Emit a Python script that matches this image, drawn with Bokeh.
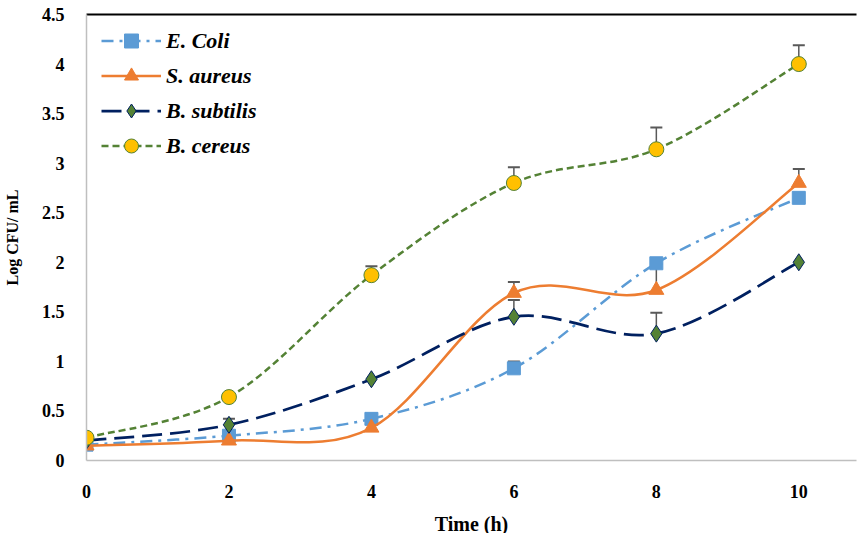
import numpy as np
from bokeh.plotting import figure
from bokeh.models import (LinearAxis, FixedTicker, Whisker, ColumnDataSource, TeeHead,
                          Legend, LegendItem, Range1d)
from bokeh.embed import file_html
from bokeh.resources import INLINE

# ---------------- data ----------------
time_h = [0, 2, 4, 6, 8, 10]
e_coli = [0.16, 0.25, 0.42, 0.93, 1.99, 2.65]
s_aureus = [0.15, 0.20, 0.33, 1.69, 1.72, 2.80]
b_subtilis = [0.20, 0.36, 0.82, 1.45, 1.28, 2.00]
b_cereus = [0.23, 0.64, 1.87, 2.80, 3.14, 4.00]

err_e_coli = [0, 0, 0, 0.07, 0, 0]
err_s_aureus = [0, 0, 0, 0.11, 0.26, 0.14]
err_b_subtilis = [0, 0.06, 0, 0.17, 0.21, 0]
err_b_cereus = [0, 0, 0.09, 0.16, 0.22, 0.19]

series_names = ["E. Coli", "S. aureus", "B. subtilis", "B. cereus"]
x_ticks = [0, 2, 4, 6, 8, 10]
y_ticks = [0, 0.5, 1, 1.5, 2, 2.5, 3, 3.5, 4, 4.5]
y_tick_labels = ["0", "0.5", "1", "1.5", "2", "2.5", "3", "3.5", "4", "4.5"]

# ---------------- styles ----------------
styles = [
    dict(line_color="#5B9BD5", line_dash="12 6 3 6", line_width=2.5,
         marker="square", size=13, fill="#5B9BD5", mline="#5B9BD5"),
    dict(line_color="#ED7D31", line_dash="solid", line_width=2.5,
         marker="triangle", size=15, fill="#ED7D31", mline="#ED7D31"),
    dict(line_color="#002060", line_dash="20 8", line_width=2.75,
         marker="diamond", size=17, fill="#548235", mline="#002060"),
    dict(line_color="#548235", line_dash="7 4", line_width=2.5,
         marker="circle", size=15, fill="#FFC000", mline="#548235"),
]
values = [e_coli, s_aureus, b_subtilis, b_cereus]
errors = [err_e_coli, err_s_aureus, err_b_subtilis, err_b_cereus]

FONT = "Liberation Serif"

p = figure(frame_width=770, frame_height=446, output_backend="svg", toolbar_location=None,
           x_range=Range1d(0, 10.81), y_range=Range1d(0, 4.5),
           min_border_left=80, min_border_top=14, min_border_bottom=60, min_border_right=2)
p.outline_line_color = None
p.xgrid.visible = False
p.ygrid.visible = False
p.background_fill_color = "white"

# axes
for ax in (p.xaxis[0], p.yaxis[0]):
    ax.axis_line_color = "#BFBFBF"
    ax.axis_line_width = 1.5
    ax.major_tick_line_color = None
    ax.minor_tick_line_color = None
    ax.major_label_text_font = FONT
    ax.major_label_text_font_style = "bold"
    ax.major_label_text_font_size = "18px"
    ax.major_label_text_color = "black"
    ax.axis_label_text_font = FONT
    ax.axis_label_text_font_style = "bold"
    ax.axis_label_text_color = "black"

p.xaxis.ticker = FixedTicker(ticks=x_ticks)
p.yaxis.ticker = FixedTicker(ticks=y_ticks)
p.yaxis.major_label_overrides = {t: l for t, l in zip(y_ticks, y_tick_labels)}
p.xaxis.axis_label = "Time (h)"
p.yaxis.axis_label = "Log CFU/ mL"
p.xaxis.axis_label_text_font_size = "20px"
p.yaxis.axis_label_text_font_size = "16px"
p.xaxis.major_label_standoff = 18
p.yaxis.major_label_standoff = 16
p.xaxis.axis_label_standoff = 12
p.yaxis.axis_label_standoff = 18

top_axis = LinearAxis(ticker=FixedTicker(ticks=[]), axis_line_color="black", axis_line_width=2,
                      major_tick_line_color=None, minor_tick_line_color=None)
p.add_layout(top_axis, "above")


def smooth_controls(xs, ys):
    xs = np.asarray(xs, float)
    ys = np.asarray(ys, float)
    n = len(xs)
    x0, y0, x1, y1, cx0, cy0, cx1, cy1 = ([] for _ in range(8))
    for i in range(n - 1):
        im1 = max(i - 1, 0)
        ip2 = min(i + 2, n - 1)
        x0.append(xs[i]); y0.append(ys[i])
        x1.append(xs[i + 1]); y1.append(ys[i + 1])
        cx0.append(xs[i] + (xs[i + 1] - xs[im1]) / 6.0)
        cy0.append(ys[i] + (ys[i + 1] - ys[im1]) / 6.0)
        cx1.append(xs[i + 1] - (xs[ip2] - xs[i]) / 6.0)
        cy1.append(ys[i + 1] - (ys[ip2] - ys[i]) / 6.0)
    return dict(x0=x0, y0=y0, x1=x1, y1=y1, cx0=cx0, cy0=cy0, cx1=cx1, cy1=cy1)


# error bars (under everything)
for vals, errs in zip(values, errors):
    bx = [x for x, e in zip(time_h, errs) if e > 0]
    lo = [v for v, e in zip(vals, errs) if e > 0]
    up = [v + e for v, e in zip(vals, errs) if e > 0]
    src = ColumnDataSource(dict(base=bx, lower=lo, upper=up))
    w = Whisker(base="base", lower="lower", upper="upper", source=src,
                line_color="#595959", line_width=1.5, level="underlay",
                upper_head=TeeHead(size=12, line_color="#595959", line_width=2),
                lower_head=None)
    p.add_layout(w)

items = []
for name, vals, st in zip(series_names, values, styles):
    ctrl = smooth_controls(time_h, vals)
    p.bezier(source=ColumnDataSource(ctrl), x0="x0", y0="y0", x1="x1", y1="y1",
             cx0="cx0", cy0="cy0", cx1="cx1", cy1="cy1",
             line_color=st["line_color"], line_width=st["line_width"], line_dash=st["line_dash"])
    # legend-only line sample (a single NaN point, so nothing is drawn in the plot)
    leg_line = p.line(x=[np.nan], y=[np.nan], line_color=st["line_color"],
                      line_width=st["line_width"], line_dash=st["line_dash"])
    mk = p.scatter(time_h, vals, marker=st["marker"], size=st["size"],
                   fill_color=st["fill"], line_color=st["mline"], line_width=1)
    items.append(LegendItem(label=name, renderers=[leg_line, mk]))

legend = Legend(items=items, location=(15, 297), margin=0, padding=0,
                glyph_width=60, glyph_height=35, label_height=22, spacing=0,
                label_standoff=5, label_text_font=FONT, label_text_font_style="bold italic",
                label_text_font_size="22px", label_text_color="black",
                background_fill_alpha=0, border_line_color=None)
p.add_layout(legend, "center")

open("out.html", "w").write(file_html(p, INLINE))
